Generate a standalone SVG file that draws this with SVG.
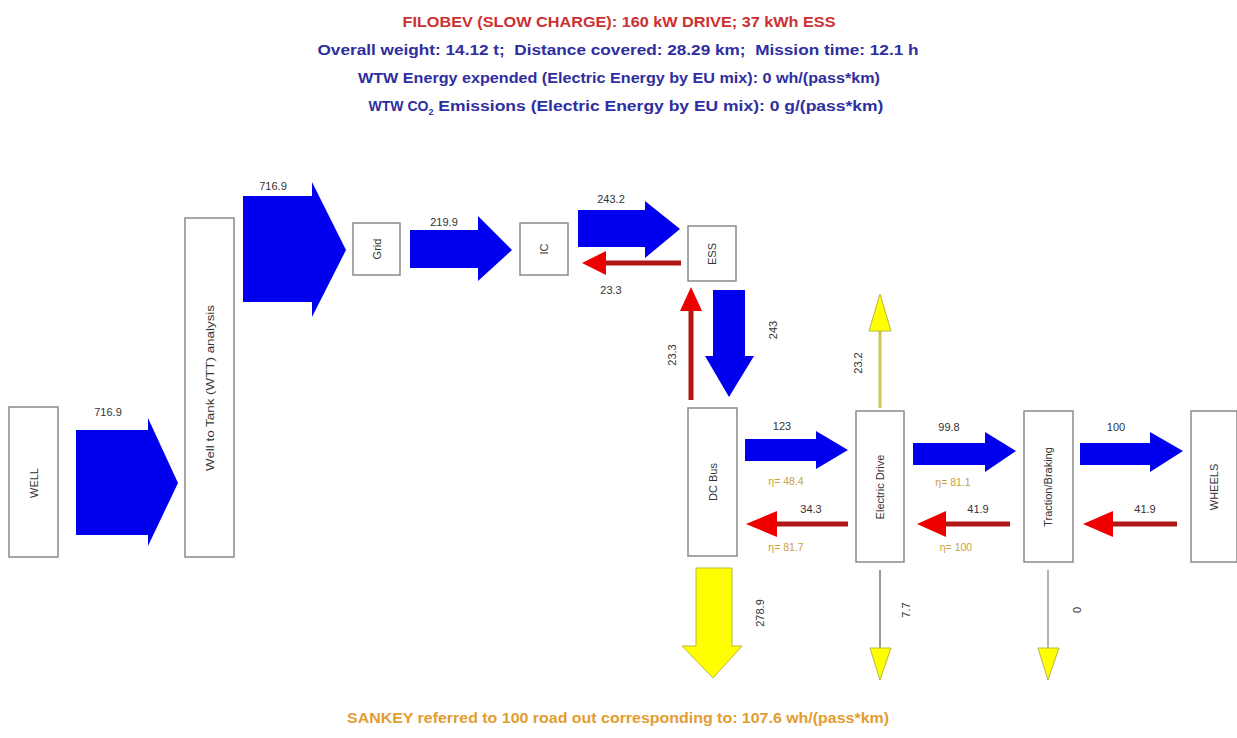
<svg xmlns="http://www.w3.org/2000/svg" width="1237" height="738" viewBox="0 0 1237 738">
<style>
.box{fill:#fff;stroke:#8a8a8a;stroke-width:1.5}
.nl{font-family:"Liberation Sans",Arial,sans-serif;font-size:11px;fill:#333;text-anchor:middle;dominant-baseline:central}
.vl{font-family:"Liberation Sans",Arial,sans-serif;font-size:11px;fill:#333;text-anchor:middle}
.rv{font-family:"Liberation Sans",Arial,sans-serif;font-size:11px;fill:#333;text-anchor:middle;dominant-baseline:central}
.eta{font-family:"Liberation Sans",Arial,sans-serif;font-size:10.5px;fill:#c9a040;text-anchor:middle}
.blue{fill:#0000ee}
.redh{fill:#ee0000}
.redl{stroke:#b01818;stroke-width:5}
.yel{fill:#ffff00;stroke:#b8b840;stroke-width:1}
.t{font-family:"Liberation Sans",Arial,sans-serif;font-size:14px;font-weight:bold;text-anchor:middle}
</style>
<rect width="1237" height="738" fill="#fff"/>
<text class="t" x="619" y="27" fill="#cc3030" textLength="433" lengthAdjust="spacingAndGlyphs">FILOBEV (SLOW CHARGE): 160 kW DRIVE; 37 kWh ESS</text>
<text class="t" x="618" y="55" fill="#2e2ea0" textLength="601" lengthAdjust="spacingAndGlyphs" xml:space="preserve">Overall weight: 14.12 t;  Distance covered: 28.29 km;  Mission time: 12.1 h</text>
<text class="t" x="619" y="83" fill="#2e2ea0" textLength="522" lengthAdjust="spacingAndGlyphs">WTW Energy expended (Electric Energy by EU mix): 0 wh/(pass*km)</text>
<text class="t" x="626" y="111" fill="#2e2ea0">WTW CO<tspan font-size="9" dy="4">2</tspan><tspan dy="-4" textLength="450" lengthAdjust="spacingAndGlyphs"> Emissions (Electric Energy by EU mix): 0 g/(pass*km)</tspan></text>
<text class="t" x="618" y="723" fill="#e39c30" textLength="542" lengthAdjust="spacingAndGlyphs">SANKEY referred to 100 road out corresponding to: 107.6 wh/(pass*km)</text>

<g id="well"><rect class="box" x="9" y="407" width="49" height="150"/><text class="nl" transform="translate(34,483) rotate(-90)">WELL</text></g>
<g id="wtt"><rect class="box" x="185" y="218" width="49" height="339"/><text class="nl" transform="translate(210,388) rotate(-90)" textLength="166" lengthAdjust="spacingAndGlyphs">Well to Tank (WTT) analysis</text></g>
<g id="grid"><rect class="box" x="353" y="223" width="47" height="52"/><text class="nl" transform="translate(377,249) rotate(-90)">Grid</text></g>
<g id="ic"><rect class="box" x="520" y="223" width="48" height="52"/><text class="nl" transform="translate(544,249) rotate(-90)">IC</text></g>
<g id="ess"><rect class="box" x="688" y="226" width="48" height="55"/><text class="nl" transform="translate(712,254) rotate(-90)">ESS</text></g>
<g id="dcbus"><rect class="box" x="688" y="408" width="49" height="148"/><text class="nl" transform="translate(713,482) rotate(-90)">DC Bus</text></g>
<g id="edrive"><rect class="box" x="856" y="411" width="48" height="151"/><text class="nl" transform="translate(880,487) rotate(-90)">Electric Drive</text></g>
<g id="traction"><rect class="box" x="1024" y="411" width="49" height="151"/><text class="nl" transform="translate(1048,487) rotate(-90)">Traction/Braking</text></g>
<g id="wheels"><rect class="box" x="1191" y="411" width="46" height="151"/><text class="nl" transform="translate(1214,487) rotate(-90)">WHEELS</text></g>

<g id="connectors">
<!-- WELL -> WTT -->
<polygon class="blue" points="76,430 148,430 148,418 178,483 148,546 148,535 76,535"/>
<text class="vl" x="108" y="416">716.9</text>
<!-- WTT -> Grid -->
<polygon class="blue" points="243,196 312,196 312,182 346,250 312,317 312,302 243,302"/>
<text class="vl" x="273" y="190">716.9</text>
<!-- Grid -> IC -->
<polygon class="blue" points="410,230 478,230 478,216 512,250 478,281 478,268 410,268"/>
<text class="vl" x="444" y="226">219.9</text>
<!-- IC -> ESS -->
<polygon class="blue" points="578,210 645,210 645,201 680,229 645,258 645,247 578,247"/>
<text class="vl" x="611" y="203">243.2</text>
<!-- ESS -> IC red -->
<line class="redl" x1="681" y1="263" x2="603" y2="263"/>
<polygon class="redh" points="582,263 606,251 606,275"/>
<text class="vl" x="611" y="294">23.3</text>
<!-- ESS -> DC Bus -->
<polygon class="blue" points="713,290 745,290 745,356 754,356 729,397 705,356 713,356"/>
<text class="rv" transform="translate(773,330) rotate(-90)">243</text>
<!-- DC Bus -> ESS red -->
<line class="redl" x1="691" y1="400" x2="691" y2="308"/>
<polygon class="redh" points="691,287 680,311 702,311"/>
<text class="rv" transform="translate(672,355) rotate(-90)">23.3</text>
<!-- DC -> ED -->
<polygon class="blue" points="745,439 816,439 816,431 848,450 816,469 816,461 745,461"/>
<text class="vl" x="782" y="430">123</text>
<text class="eta" x="786" y="485">η= 48.4</text>
<!-- ED -> DC red -->
<line class="redl" x1="848" y1="524" x2="770" y2="524"/>
<polygon class="redh" points="746,524 777,511 777,537"/>
<text class="vl" x="811" y="513">34.3</text>
<text class="eta" x="786" y="551">η= 81.7</text>
<!-- ED -> TB -->
<polygon class="blue" points="913,443 985,443 985,432 1016,451 985,472 985,465 913,465"/>
<text class="vl" x="949" y="431">99.8</text>
<text class="eta" x="953" y="486">η= 81.1</text>
<!-- TB -> ED red -->
<line class="redl" x1="1010" y1="524" x2="938" y2="524"/>
<polygon class="redh" points="917,524 946,511 946,537"/>
<text class="vl" x="978" y="513">41.9</text>
<text class="eta" x="956" y="551">η= 100</text>
<!-- TB -> WHEELS -->
<polygon class="blue" points="1080,443 1150,443 1150,432 1183,451 1150,472 1150,465 1080,465"/>
<text class="vl" x="1116" y="431">100</text>
<!-- WHEELS -> TB red -->
<line class="redl" x1="1177" y1="524" x2="1105" y2="524"/>
<polygon class="redh" points="1083,524 1113,511 1113,537"/>
<text class="vl" x="1145" y="513">41.9</text>
<!-- DC Bus down yellow -->
<polygon class="yel" points="696,568 732,568 732,646 742,646 713,678 682,646 696,646"/>
<text class="rv" transform="translate(760,613) rotate(-90)">278.9</text>
<!-- ED up yellow -->
<line x1="880" y1="408" x2="880" y2="328" stroke="#c8c850" stroke-width="3"/>
<polygon class="yel" points="880,294 869,331 891,331"/>
<text class="rv" transform="translate(858,363) rotate(-90)">23.2</text>
<!-- ED down -->
<line x1="880" y1="570" x2="880" y2="650" stroke="#777" stroke-width="1.5"/>
<polygon class="yel" points="870,648 891,648 880,680"/>
<text class="rv" transform="translate(906,610) rotate(-90)">7.7</text>
<!-- TB down -->
<line x1="1048" y1="570" x2="1048" y2="650" stroke="#999" stroke-width="1.5"/>
<polygon class="yel" points="1038,648 1059,648 1048,680"/>
<text class="rv" transform="translate(1077,610) rotate(-90)">0</text>
</g>
</svg>
